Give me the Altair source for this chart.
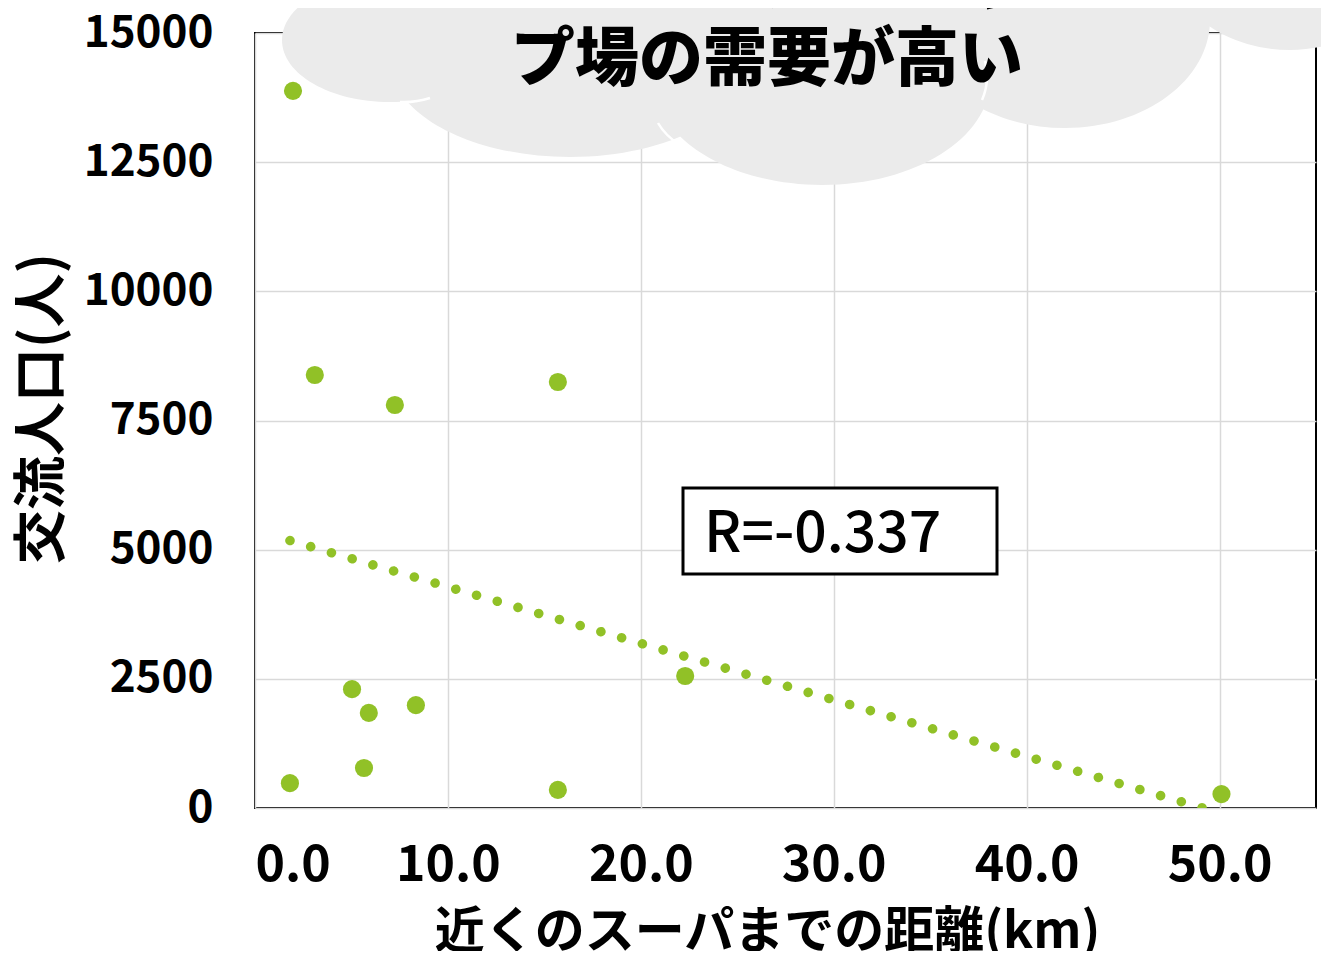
import altair as alt
import pandas as pd

# ---- data ----
distance_km = [1.97, 3.1, 7.25, 15.7, 5.03, 5.9, 8.34, 1.81, 5.65, 15.7, 22.3, 50.1]
population = [13880, 8380, 7800, 8245, 2300, 1840, 1990, 480, 775, 350, 2555, 270]
x_ticks = [0, 10, 20, 30, 40, 50]
y_ticks = [0, 2500, 5000, 7500, 10000, 12500, 15000]
r_label = ["R=-0.337"]
cloud_lines = ["スーパーが近いキャン", "プ場の需要が高い"]
x_title = "近くのスーパまでの距離(km)"
y_title = "交流人口(人)"

df = pd.DataFrame({"x": distance_km, "y": population})

FONT = "Noto Sans CJK JP"
GREEN = "#91C127"
GRID = "#D9D9D9"

xs = alt.Scale(domain=[0, 55], nice=False, zero=False)
ys = alt.Scale(domain=[0, 15000], nice=False)

x_axis = alt.Axis(values=x_ticks, format=".1f", title=x_title, ticks=False, domain=False,
                  grid=True, gridColor=GRID, gridWidth=1.5,
                  labelFont=FONT, labelFontSize=50, labelFontWeight="bold", labelColor="black",
                  labelPadding=32,
                  titleFont=FONT, titleFontSize=50, titleFontWeight="bold", titleColor="black",
                  titleX=512, titleY=124, titleBaseline="middle")
y_axis = alt.Axis(values=y_ticks, format="d", title=y_title, ticks=False, domain=False,
                  grid=True, gridColor=GRID, gridWidth=1.5,
                  labelFont=FONT, labelFontSize=44, labelFontWeight="bold", labelColor="black",
                  labelPadding=42,
                  titleFont=FONT, titleFontSize=54, titleFontWeight="bold", titleColor="black",
                  titleX=-212, titleY=375, titleBaseline="middle")

base = alt.Chart(df)

trend = base.transform_regression("x", "y").mark_line(
    color=GREEN, strokeWidth=9.5, strokeDash=[0.1, 21.5], strokeCap="round", clip=True
).encode(x=alt.X("x:Q", scale=xs, axis=x_axis), y=alt.Y("y:Q", scale=ys, axis=y_axis))

points = base.mark_circle(size=330, color=GREEN, opacity=1).encode(
    x=alt.X("x:Q", scale=xs, axis=x_axis), y=alt.Y("y:Q", scale=ys, axis=y_axis)
)

lab = alt.Chart(pd.DataFrame({"label": r_label}))
box = lab.mark_rect(fill="white", stroke="black", strokeWidth=3).encode(
    x=alt.value(428), x2=alt.value(742), y=alt.value(455), y2=alt.value(541)
)
rtext = lab.mark_text(align="left", baseline="middle", font=FONT, fontSize=57,
                      fontWeight=500, color="black").encode(
    x=alt.value(449), y=alt.value(502), text="label:N"
)


def ellipse(cx, cy, rx, ry):
    return (f"M{cx - rx},{cy}A{rx},{ry} 0 1,0 {cx + rx},{cy}"
            f"A{rx},{ry} 0 1,0 {cx - rx},{cy}Z")


def arc(x0, y0, rx, ry, x1, y1):
    return f"M{x0},{y0}A{rx},{ry} 0 0,0 {x1},{y1}"


# cloud decoration (pixel units relative to plot origin; size=4 -> scale 1)
cloud_path = " ".join([
    ellipse(135, 7, 108, 62),
    ellipse(315, 27, 180, 97),
    ellipse(567, 47, 168, 105),
    ellipse(810, -13, 145, 108),
    ellipse(1035, -93, 130, 110),
    ellipse(505, -73, 330, 110),
])
# faint white inner arcs of the cloud outline
inner_arcs = " ".join([
    arc(145, 69, 60, 40, 175, 65),
    arc(403, 90, 90, 60, 425, 112),
    arc(727, 67, 60, 60, 730, 28),
])

one = alt.Chart(pd.DataFrame({"k": [0]}))
cloud = one.mark_point(shape=cloud_path, size=4, filled=True, fill="#EBEBEB",
                       opacity=1, strokeWidth=0).encode(x=alt.value(0), y=alt.value(0))
arcs = one.mark_point(shape=inner_arcs, size=4, filled=False, stroke="white",
                      opacity=1, strokeWidth=2.5).encode(x=alt.value(0), y=alt.value(0))
cloud_text = one.mark_text(text=cloud_lines, font=FONT, fontSize=64, fontWeight=900,
                           align="center", baseline="middle", lineHeight=78,
                           color="black").encode(x=alt.value(512), y=alt.value(-50))

chart = alt.layer(trend, points, box, rtext, cloud, arcs, cloud_text).properties(
    width=1061, height=775,
    autosize=alt.AutoSizeParams(type="none"),
    padding={"left": 247, "top": 25, "right": 5, "bottom": 143},
    background="white",
).configure_view(stroke="black", strokeWidth=2)

chart.save("out.html", embed_options={"renderer": "svg", "actions": False})
